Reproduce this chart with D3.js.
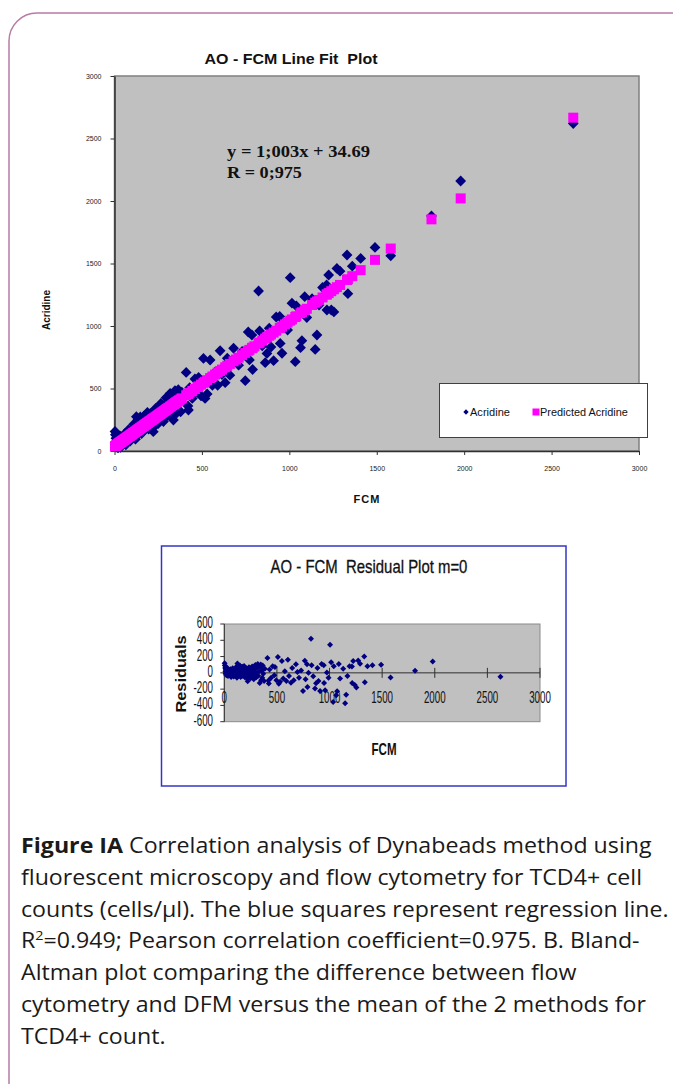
<!DOCTYPE html>
<html>
<head>
<meta charset="utf-8">
<script src="https://cdn.jsdelivr.net/npm/d3@7"></script>
<style>
  body { margin: 0; background: #fff; }
  svg { display: block; }
  text { white-space: pre; }
</style>
</head>
<body>
<svg id="fig"></svg>
<script>
var width = 673,
  height = 1084;

// FCM count (x) vs acridine orange count (y), cells/ul
var fcm = [3, 5, 8, 10, 12, 15, 18, 20, 22, 25, 28, 30, 33, 35, 38, 40, 43, 45, 48, 50,
  55, 58, 60, 63, 65, 70, 72, 75, 78, 80, 85, 88, 90, 95, 98, 100, 105, 108, 110, 115,
  118, 120, 125, 128, 130, 135, 138, 140, 145, 148, 150, 155, 158, 160, 165, 168, 170, 175, 178, 180,
  185, 188, 190, 195, 198, 200, 205, 210, 215, 218, 222, 225, 230, 235, 240, 245, 250, 255, 260, 265,
  270, 275, 280, 285, 290, 295, 300, 305, 310, 318, 322, 330, 337, 340, 346, 350, 355, 360, 365, 370,
  378, 385, 410, 420, 423, 430, 445, 460, 475, 481, 495, 509, 518, 530, 547, 560, 575, 590, 604, 615,
  633, 645, 660, 681, 695, 710, 748, 730, 765, 772, 786, 790, 800, 824, 830, 845, 862, 872, 885, 895,
  910, 925, 945, 948, 958, 975, 990, 1005, 1015, 1040, 1034, 1064, 1072, 1088, 1100, 1130, 1148, 1158, 1170, 1190,
  1213, 1225, 1215, 1240, 1255, 1272, 1290, 1330, 1335, 1360, 1408, 1490, 1580, 1813, 1980, 2624];

var acridine = [156, 130, 103, 65, 37, 90, 58, 25, 127, 90, 43, 75, 118, 30, 98, 75, 63, 115, 58, 100,
  85, 138, 60, 118, 50, 115, 87, 140, 103, 170, 90, 128, 80, 155, 118, 175, 115, 153, 215, 110,
  173, 95, 275, 198, 145, 250, 168, 225, 150, 273, 200, 140, 253, 180, 230, 163, 280, 215, 188, 260,
  210, 308, 245, 175, 268, 215, 300, 210, 260, 183, 155, 300, 250, 340, 230, 305, 220, 345, 290, 380,
  275, 330, 236, 366, 306, 426, 341, 286, 406, 461, 323, 381, 248, 451, 483, 296, 421, 336, 491, 396,
  314, 471, 629, 361, 328, 506, 421, 576, 481, 589, 441, 741, 421, 456, 728, 526, 631, 526, 802, 612,
  547, 742, 607, 822, 742, 687, 563, 797, 952, 729, 928, 652, 837, 1280, 961, 842, 707, 781, 982, 832,
  723, 1072, 1076, 861, 782, 1018, 968, 1387, 1183, 1160, 715, 827, 883, 1235, 1068, 1218, 813, 928, 1168, 1308,
  1328, 1408, 1128, 1128, 1113, 1461, 1439, 1568, 1259, 1479, 1541, 1629, 1562, 1880, 2160, 2620];

// regression line from the chart
var slope = 1.003,
  intercept = 34.69;

var axisTicks = [0, 500, 1000, 1500, 2000, 2500, 3000];
var residTicks = [-600, -400, -200, 0, 200, 400, 600];

var captionLines = [
  [["Figure IA", "bold"], [" Correlation analysis of Dynabeads method using", ""]],
  [["fluorescent microscopy and flow cytometry for TCD4+ cell", ""]],
  [["counts (cells/\u00b5l). The blue squares represent regression line.", ""]],
  [["R", ""], ["2", "sup"], ["=0.949; Pearson correlation coefficient=0.975. B. Bland-", ""]],
  [["Altman plot comparing the difference between flow", ""]],
  [["cytometry and DFM versus the mean of the 2 methods for", ""]],
  [["TCD4+ count.", ""]]
];

var predicted = fcm.map((v) => slope * v + intercept);
var residuals = acridine.map((v, i) => v - predicted[i]);

var svg = d3.select("#fig")
  .attr("width", width)
  .attr("height", height);

// squeeze a text horizontally so it fills a measured width
function fitText(t, x, y, w) {
  t.attr("transform", "translate(" + x + "," + y + ")");
  if (w) {
    var len = t.node().getComputedTextLength();
    t.attr("transform", "translate(" + x + "," + y + ") scale(" + (w / len) + ",1)");
  }
  return t;
}

// page frame
svg.append("path")
  .attr("d", "M9,1090 V41 A28,28 0 0 1 37,13 H690")
  .attr("fill", "none")
  .attr("stroke", "#b77ba5")
  .attr("stroke-width", 1.5);

// ---------- line fit plot ----------
var x = d3.scaleLinear().domain([0, 3000]).range([114.5, 639]);
var y = d3.scaleLinear().domain([0, 3000]).range([451, 76]);

var fitG = svg.append("g");

fitG.append("rect")
  .attr("x", x(0))
  .attr("y", y(3000))
  .attr("width", x(3000) - x(0))
  .attr("height", y(0) - y(3000))
  .attr("fill", "#c0c0c0")
  .attr("stroke", "#808080")
  .attr("stroke-width", 1.5);

var yAx = fitG.append("g")
  .attr("transform", "translate(" + x(0) + ",0)")
  .call(d3.axisLeft(y).tickValues(axisTicks).tickFormat(d3.format("d"))
    .tickSize(4).tickSizeOuter(0).tickPadding(9));
var xAx = fitG.append("g")
  .attr("transform", "translate(0," + y(0) + ")")
  .call(d3.axisBottom(x).tickValues(axisTicks).tickFormat(d3.format("d"))
    .tickSize(4).tickSizeOuter(0).tickPadding(11));
[yAx, xAx].forEach((a) => {
  a.select(".domain").attr("stroke", "#303030").attr("stroke-width", 1.5);
  a.selectAll(".tick line").attr("stroke", "#303030");
  a.selectAll(".tick text")
    .attr("font-family", "'Liberation Sans', Arial, sans-serif")
    .attr("font-size", 7)
    .attr("fill", "#222");
});

var diamond = d3.symbol(d3.symbolSquare);
var plot = fitG.append("g");

plot.selectAll("path.acr")
  .data(fcm)
  .enter().append("path")
  .attr("class", "acr")
  .attr("d", diamond.size(58)())
  .attr("transform", (d, i) => "translate(" + x(d) + "," + y(acridine[i]) + ") rotate(45)")
  .attr("fill", "#000080");

plot.selectAll("rect.pred")
  .data(fcm)
  .enter().append("rect")
  .attr("class", "pred")
  .attr("x", (d) => x(d) - 5)
  .attr("y", (d, i) => y(predicted[i]) - 5)
  .attr("width", 10)
  .attr("height", 10)
  .attr("fill", "#ff00ff");

fitText(fitG.append("text")
  .attr("text-anchor", "middle")
  .attr("font-family", "'Liberation Sans', Arial, sans-serif")
  .attr("font-weight", "bold")
  .attr("font-size", 15)
  .attr("fill", "#111")
  .text("AO - FCM Line Fit  Plot"), 291, 64, 173);

fitG.append("text")
  .attr("transform", "translate(50,310) rotate(-90)")
  .attr("text-anchor", "middle")
  .attr("font-family", "'Liberation Sans', Arial, sans-serif")
  .attr("font-weight", "bold")
  .attr("font-size", 10)
  .attr("fill", "#111")
  .text("Acridine");

fitG.append("text")
  .attr("x", 367)
  .attr("y", 503)
  .attr("text-anchor", "middle")
  .attr("font-family", "'Liberation Sans', Arial, sans-serif")
  .attr("font-weight", "bold")
  .attr("font-size", 11)
  .attr("letter-spacing", 1)
  .attr("fill", "#111")
  .text("FCM");

// equation
[["y = 1;003x + 34.69", 143], ["R = 0;975", 75]].forEach((s, i) => {
  fitText(fitG.append("text")
    .attr("font-family", "'Liberation Serif', 'Times New Roman', serif")
    .attr("font-weight", "bold")
    .attr("font-size", 16)
    .attr("fill", "#111")
    .text(s[0]), 227, 157 + i * 21, s[1]);
});

// legend
var leg = fitG.append("g");
leg.append("rect")
  .attr("x", 439.5).attr("y", 383.5)
  .attr("width", 208).attr("height", 54)
  .attr("fill", "#fff")
  .attr("stroke", "#404040");
leg.append("path")
  .attr("d", d3.symbol(d3.symbolSquare).size(14)())
  .attr("transform", "translate(466,412) rotate(45)")
  .attr("fill", "#000080");
leg.append("rect")
  .attr("x", 532.5).attr("y", 408.5)
  .attr("width", 7).attr("height", 7)
  .attr("fill", "#ff00ff");
[["Acridine", 470, 40], ["Predicted Acridine", 540, 88]].forEach((l) => {
  fitText(leg.append("text")
    .attr("font-family", "'Liberation Sans', Arial, sans-serif")
    .attr("font-size", 10)
    .attr("fill", "#111")
    .text(l[0]), l[1], 415.5, l[2]);
});

// ---------- residual plot ----------
var res = svg.append("g");
res.append("rect")
  .attr("x", 161.5).attr("y", 546)
  .attr("width", 404.5).attr("height", 240)
  .attr("fill", "#fff")
  .attr("stroke", "#3434c8")
  .attr("stroke-width", 1.5);

var rx = d3.scaleLinear().domain([0, 3000]).range([224.3, 540]);
var ry = d3.scaleLinear().domain([-600, 600]).range([721.7, 624]);

res.append("rect")
  .attr("x", rx(0))
  .attr("y", ry(600))
  .attr("width", rx(3000) - rx(0))
  .attr("height", ry(-600) - ry(600))
  .attr("fill", "#c0c0c0")
  .attr("stroke", "#8a8a8a");

res.append("line")
  .attr("x1", rx(0)).attr("x2", rx(0))
  .attr("y1", ry(600)).attr("y2", ry(-600))
  .attr("stroke", "#303030");
res.append("line")
  .attr("x1", rx(0)).attr("x2", rx(3000))
  .attr("y1", ry(0)).attr("y2", ry(0))
  .attr("stroke", "#303030");

res.selectAll("line.yt")
  .data(residTicks)
  .enter().append("line")
  .attr("class", "yt")
  .attr("x1", rx(0) - 4).attr("x2", rx(0))
  .attr("y1", (d) => ry(d)).attr("y2", (d) => ry(d))
  .attr("stroke", "#303030");

res.selectAll("line.xt")
  .data(axisTicks.slice(1))
  .enter().append("line")
  .attr("class", "xt")
  .attr("x1", (d) => rx(d)).attr("x2", (d) => rx(d))
  .attr("y1", ry(0) - 5).attr("y2", ry(0) + 5)
  .attr("stroke", "#303030");

var condensed = 0.61;
residTicks.forEach((v) => {
  res.append("text")
    .attr("transform", "translate(213," + (ry(v) + 4) + ") scale(" + condensed + ",1)")
    .attr("text-anchor", "end")
    .attr("font-family", "'Liberation Sans', Arial, sans-serif")
    .attr("font-size", 16)
    .attr("fill", "#111")
    .text(v);
});
axisTicks.forEach((v) => {
  res.append("text")
    .attr("transform", "translate(" + rx(v) + ",703) scale(" + condensed + ",1)")
    .attr("text-anchor", "middle")
    .attr("font-family", "'Liberation Sans', Arial, sans-serif")
    .attr("font-size", 16)
    .attr("fill", "#111")
    .text(v);
});

res.selectAll("path.rs")
  .data(fcm)
  .enter().append("path")
  .attr("class", "rs")
  .attr("d", d3.symbol(d3.symbolSquare).size(18)())
  .attr("transform", (d, i) => "translate(" + rx(d) + "," + ry(residuals[i]) + ") rotate(45)")
  .attr("fill", "#000080");

fitText(res.append("text")
  .attr("text-anchor", "middle")
  .attr("font-family", "'Liberation Sans', Arial, sans-serif")
  .attr("font-size", 18)
  .attr("fill", "#111")
  .attr("stroke", "#111")
  .attr("stroke-width", 0.3)
  .text("AO - FCM  Residual Plot m=0"), 369, 573, 197);

fitText(res.append("text")
  .attr("text-anchor", "middle")
  .attr("font-family", "'Liberation Sans', Arial, sans-serif")
  .attr("font-weight", "bold")
  .attr("font-size", 16)
  .attr("fill", "#111")
  .text("FCM"), 384, 755, 25);

var rl = res.append("text")
  .attr("text-anchor", "middle")
  .attr("font-family", "'Liberation Sans', Arial, sans-serif")
  .attr("font-weight", "bold")
  .attr("font-size", 15)
  .attr("fill", "#111")
  .text("Residuals");
var rlen = rl.node().getComputedTextLength();
rl.attr("transform", "translate(186,674) rotate(-90) scale(" + (77 / rlen) + ",1)");

// ---------- caption ----------
var cap = svg.append("g")
  .attr("font-family", "'Open Sans', 'Noto Sans', sans-serif")
  .attr("font-size", 21)
  .attr("fill", "#1a1a1a");

var capTexts = captionLines.map((segs, i) => {
  var t = cap.append("text").attr("transform", "translate(21," + (853 + i * 31.8) + ")");
  var afterSup = false;
  segs.forEach((s) => {
    var ts = t.append("tspan").text(s[0]);
    if (s[1] == "bold") ts.attr("font-weight", "bold");
    if (s[1] == "sup") {
      ts.attr("font-size", 13).attr("dy", -8);
      afterSup = true;
    } else if (afterSup) {
      ts.attr("dy", 8);
      afterSup = false;
    }
  });
  return t;
});
// longest line spans the full text column
var sx = 648 / capTexts[2].node().getComputedTextLength();
capTexts.forEach((t, i) => {
  t.attr("transform", "translate(21," + (853 + i * 31.8) + ") scale(" + sx + ",1)");
});
</script>
</body>
</html>
